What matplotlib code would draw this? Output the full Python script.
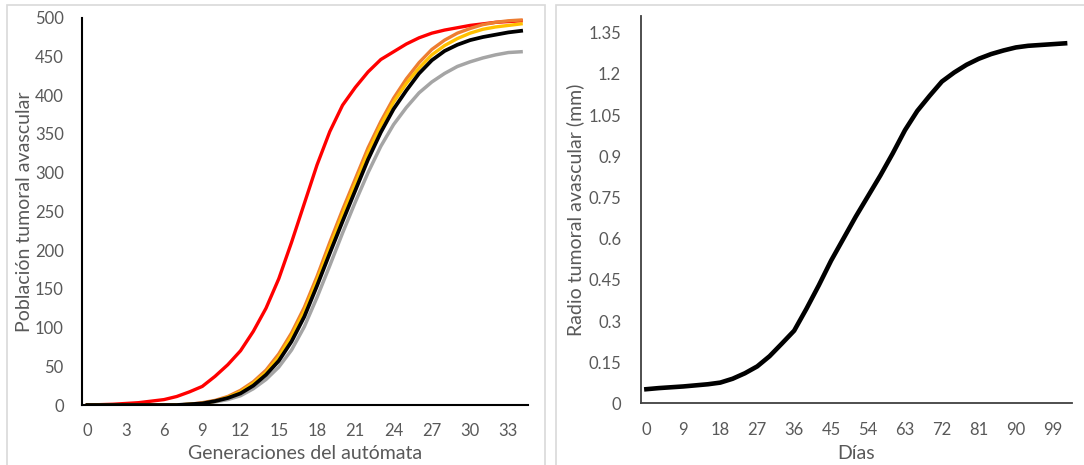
import numpy as np
import matplotlib.pyplot as plt
from matplotlib.patches import Rectangle

plt.rcParams['font.family'] = ['Lato', 'DejaVu Sans']

# generaciones del automata (0..34)
generaciones = np.arange(35)

# poblacion tumoral, cinco simulaciones
pob_roja = [0, 0.5, 1, 2, 3, 5, 7, 11, 17, 24, 37, 52, 70, 95, 125, 163, 210,
            260, 310, 353, 387, 410, 430, 446, 456, 466, 474, 480, 484, 487,
            490, 492, 494, 495, 496]
pob_naranja = [0, 0, 0, 0, 0, 0, 0, 0, 1, 3, 6, 11, 19, 30, 45, 66, 93, 126,
               166, 210, 252, 292, 332, 366, 396, 421, 442, 459, 471, 480, 486,
               491, 494, 496, 497]
pob_amarilla = [0, 0, 0, 0, 0, 0, 0, 0, 1, 2, 5, 10, 17, 28, 42, 62, 89, 121,
                161, 204, 246, 286, 326, 361, 391, 415, 435, 452, 464, 473,
                480, 485, 488, 490, 492]
pob_negra = [0, 0, 0, 0, 0, 0, 0, 0, 1, 2, 5, 9, 15, 25, 39, 57, 82, 114,
             154, 196, 237, 277, 317, 352, 382, 406, 428, 445, 457, 465, 471,
             475, 478, 481, 483]
pob_gris = [0, 0, 0, 0, 0, 0, 0, 0, 0, 1, 4, 7, 12, 21, 33, 49, 71, 101,
            139, 180, 222, 262, 300, 334, 362, 384, 403, 417, 428, 437, 443,
            448, 452, 455, 456]

# radio tumoral (mm) cada 3 dias
dias = generaciones * 3
radio = [0.052, 0.056, 0.059, 0.062, 0.066, 0.070, 0.076, 0.090, 0.110,
         0.135, 0.172, 0.218, 0.265, 0.345, 0.430, 0.520, 0.600, 0.680,
         0.755, 0.830, 0.910, 0.995, 1.065, 1.120, 1.172, 1.205, 1.233,
         1.255, 1.272, 1.285, 1.296, 1.302, 1.305, 1.308, 1.311]

gris_txt = '#595959'

fig = plt.figure(figsize=(10.84, 4.65), dpi=100)

# marcos de los dos graficos
fig.patches.append(Rectangle((7 / 1084, -0.1), (545 - 7) / 1084, 1.089,
                             transform=fig.transFigure, fill=False,
                             edgecolor='#D9D9D9', lw=1.2))
fig.patches.append(Rectangle((556 / 1084, -0.1), 0.6, 1.089,
                             transform=fig.transFigure, fill=False,
                             edgecolor='#D9D9D9', lw=1.2))

ax1 = fig.add_axes([0.0754, 0.129, 0.4118, 0.833])
ax1.plot(generaciones, pob_gris, color='#A5A5A5', lw=2.5)
ax1.plot(generaciones, pob_roja, color='#FF0000', lw=2.4)
ax1.plot(generaciones, pob_naranja, color='#ED7D31', lw=2.4)
ax1.plot(generaciones, pob_amarilla, color='#FFC000', lw=2.4)
ax1.plot(generaciones, pob_negra, color='#000000', lw=2.7)
ax1.set_xlim(-0.45, 34.55)
ax1.set_ylim(0, 500)
ax1.set_xticks(range(0, 34, 3))
ax1.set_yticks(range(0, 501, 50))
ax1.set_xlabel('Generaciones del autómata', fontsize=14, color=gris_txt,
               va='center')
ax1.set_ylabel('Población tumoral avascular', fontsize=14, color=gris_txt,
               va='center')
ax1.xaxis.set_label_coords(0.5, -0.124)
ax1.yaxis.set_label_coords(-0.128, 0.5)
for s in ['top', 'right']:
    ax1.spines[s].set_visible(False)
for s in ['left', 'bottom']:
    ax1.spines[s].set_color('#000000')
    ax1.spines[s].set_linewidth(1.5)
ax1.tick_params(length=0, labelsize=12, labelcolor=gris_txt)
ax1.tick_params(axis='y', pad=13)
ax1.tick_params(axis='x', pad=13)

ax2 = fig.add_axes([0.591, 0.1323, 0.3976, 0.833])
ax2.plot(dias, radio, color='#000000', lw=3.3)
ax2.set_xlim(-1.4, 103.6)
ax2.set_ylim(0, 1.41)
ax2.set_xticks(range(0, 100, 9))
yt = [0, 0.15, 0.3, 0.45, 0.6, 0.75, 0.9, 1.05, 1.2, 1.35]
ax2.set_yticks(yt)
ax2.set_yticklabels(['0' if v == 0 else f'{v:g}' for v in yt])
ax2.set_xlabel('Días', fontsize=14, color=gris_txt, va='center')
ax2.set_ylabel('Radio tumoral avascular (mm)', fontsize=14, color=gris_txt,
               va='center')
ax2.xaxis.set_label_coords(0.5, -0.128)
ax2.yaxis.set_label_coords(-0.152, 0.5)
for s in ['top', 'right']:
    ax2.spines[s].set_visible(False)
for s in ['left', 'bottom']:
    ax2.spines[s].set_color('#404040')
    ax2.spines[s].set_linewidth(1.3)
ax2.tick_params(length=0, labelsize=12, labelcolor=gris_txt)
ax2.tick_params(axis='y', pad=14)
ax2.tick_params(axis='x', pad=13)

fig.savefig('out.png', dpi=100)
